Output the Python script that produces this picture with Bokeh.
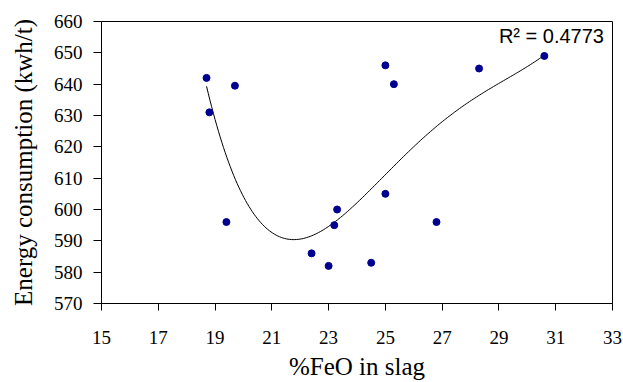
import numpy as np
from bokeh.plotting import figure
from bokeh.models import Range1d, FixedTicker, Label
from bokeh.embed import file_html
from bokeh.resources import INLINE

feo = [18.7, 18.8, 19.7, 19.4, 22.4, 23.0, 23.3, 23.2, 24.5, 25.0, 26.8, 25.0, 25.3, 28.3, 30.6]
energy = [642, 631, 639.5, 596, 586, 582, 600, 595, 583, 605, 596, 646, 640, 645, 649]
x_ticks = [15, 17, 19, 21, 23, 25, 27, 29, 31, 33]
y_ticks = [570, 580, 590, 600, 610, 620, 630, 640, 650, 660]
r2_text = "R\u00b2 = 0.4773"
trend_order = 4

# polynomial trendline fitted to the data (4th order, as in the source chart)
xa = np.array(feo)
ya = np.array(energy)
coef = np.polyfit(xa, ya, trend_order)
tx = np.linspace(xa.min(), xa.max(), 200)
ty = np.polyval(coef, tx)

p = figure(width=623, height=382, output_backend="svg", toolbar_location=None,
           x_range=Range1d(15, 33), y_range=Range1d(570, 660),
           min_border_left=101, min_border_right=11, min_border_top=21, min_border_bottom=79)
p.xgrid.visible = False
p.ygrid.visible = False
p.outline_line_color = "black"
p.outline_line_width = 1
p.background_fill_color = "white"
p.border_fill_color = "white"

p.line(tx, ty, line_color="black", line_width=1)
p.scatter(feo, energy, marker="circle", size=7, fill_color="#000090", line_color="#000090")

for ax in (p.xaxis[0], p.yaxis[0]):
    ax.axis_line_color = "black"
    ax.major_tick_line_color = "black"
    ax.minor_tick_line_color = None
    ax.major_tick_in = 0
    ax.major_label_text_font = "Liberation Serif"
    ax.major_label_text_font_size = "19px"
    ax.major_label_text_color = "black"
    ax.axis_label_text_font = "Liberation Serif"
    ax.axis_label_text_font_size = "25px"
    ax.axis_label_text_font_style = "normal"
    ax.axis_label_text_color = "black"

p.xaxis.ticker = FixedTicker(ticks=x_ticks)
p.yaxis.ticker = FixedTicker(ticks=y_ticks)
p.xaxis.major_tick_out = 7
p.yaxis.major_tick_out = 8
p.xaxis.major_label_standoff = 20
p.yaxis.major_label_standoff = 11
p.xaxis.axis_label = "%FeO in slag"
p.yaxis.axis_label = "Energy consumption (kwh/t)"
p.xaxis.axis_label_standoff = 6
p.yaxis.axis_label_standoff = 14

p.add_layout(Label(x=32.7, y=655.3, text=r2_text,
                   text_font="Liberation Sans", text_font_size="20px", text_color="black",
                   text_align="right", text_baseline="middle"))

open("out.html", "w").write(file_html(p, INLINE))
